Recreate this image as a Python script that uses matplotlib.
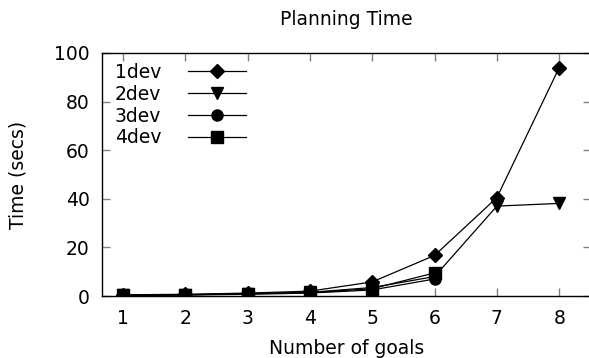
import matplotlib.pyplot as plt
import numpy as np

goals = [1, 2, 3, 4, 5, 6, 7, 8]
goals_short = [1, 2, 3, 4, 5, 6]

time_1dev = [0.5, 0.7, 1.2, 2.0, 5.8, 16.7, 40.5, 94.0]
time_2dev = [0.3, 0.5, 1.0, 1.5, 3.5, 8.0, 37.0, 38.1]
time_3dev = [0.2, 0.4, 0.7, 1.2, 2.5, 7.0]
time_4dev = [0.3, 0.5, 0.9, 1.4, 3.0, 9.5]

W, H = 589, 358
fig = plt.figure(figsize=(W / 100, H / 100), dpi=100)
# plot box in pixels: left 102, right just past the edge, top 53, bottom 296
ax = fig.add_axes([102 / W, (H - 296) / H, (591 - 102) / W, (296 - 53) / H])

fs = 13.5
ax.plot(goals, time_1dev, color='black', lw=0.9, marker='D', ms=7.5, label='1dev')
ax.plot(goals, time_2dev, color='black', lw=0.9, marker='v', ms=8.5, label='2dev')
ax.plot(goals_short, time_3dev, color='black', lw=0.9, marker='o', ms=8, label='3dev')
ax.plot(goals_short, time_4dev, color='black', lw=0.9, marker='s', ms=8, label='4dev')

ax.set_xlim(0.663, 8.51)
ax.set_ylim(0, 100)
ax.set_xticks(goals)
ax.set_yticks(np.arange(0, 101, 20))
ax.tick_params(direction='in', length=6, width=1, color='#808080',
               top=True, right=True, labelsize=fs, pad=9)
for s in ax.spines.values():
    s.set_linewidth(1)

ax.set_title('Planning Time', fontsize=fs, pad=20)
ax.set_xlabel('Number of goals', fontsize=fs, labelpad=8)
ax.set_ylabel('Time (secs)', fontsize=fs, labelpad=19)

ax.legend(loc='upper left', frameon=False, markerfirst=False, fontsize=fs,
          handlelength=3.1, handletextpad=1.4, labelspacing=0.15,
          borderaxespad=0.0, borderpad=0.4, bbox_to_anchor=(0.011, 0.99))

fig.savefig('out.png', dpi=100)
